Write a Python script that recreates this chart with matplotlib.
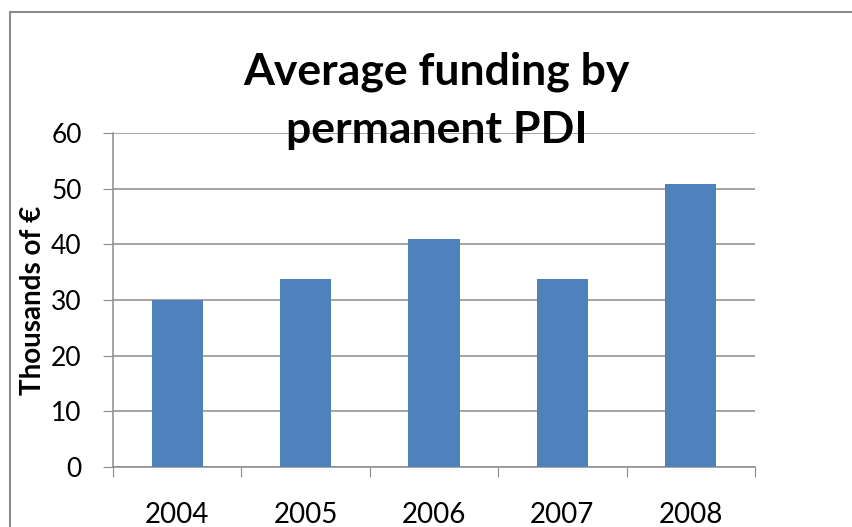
import matplotlib.pyplot as plt
from matplotlib.patches import Rectangle

years = ["2004", "2005", "2006", "2007", "2008"]
funding = [30, 33.7, 41, 33.7, 50.8]
yticks = [0, 10, 20, 30, 40, 50, 60]

plt.rcParams['font.family'] = ['Lato', 'DejaVu Sans']

fig = plt.figure(figsize=(8.53, 5.27), dpi=100)
ax = fig.add_axes([113/853, 1-467/527, 642/853, 334/527])

x = range(len(years))
ax.bar(x, funding, width=0.4, color='#4F81BD', zorder=3)

ax.set_xlim(-0.5, len(years)-0.5)
ax.set_ylim(0, 60)
ax.set_yticks(yticks)
ax.yaxis.grid(True, color='#8c8c8c', linewidth=1.1, zorder=0)

# ticks sit on the category boundaries, labels in between
ax.set_xticks([i - 0.5 for i in range(len(years)+1)])
ax.set_xticklabels([])
ax.set_xticks(list(x), minor=True)
ax.set_xticklabels(years, minor=True, fontsize=20)
ax.tick_params(axis='x', which='minor', length=0, pad=25)
ax.tick_params(axis='x', which='major', length=7.5, color='#8c8c8c', direction='out')
ax.tick_params(axis='y', length=7.5, color='#8c8c8c', labelsize=19, pad=15)

for s in ['top', 'right']:
    ax.spines[s].set_visible(False)
for s in ['left', 'bottom']:
    ax.spines[s].set_color('#8c8c8c')
    ax.spines[s].set_linewidth(1.1)

ax.set_ylabel("Thousands of €", fontsize=20, fontweight='bold', labelpad=4)

fig.text(0.512, 1-84/527, "Average funding by", ha='center', va='baseline',
         fontsize=32, fontweight='bold')
fig.text(0.512, 1-143/527, "permanent PDI", ha='center', va='baseline',
         fontsize=32, fontweight='bold')

# outer chart frame (runs off the right and bottom edges)
fig.patches.append(Rectangle((10/853, -0.1), 1.1, 1-12/527+0.1, transform=fig.transFigure,
                             fill=False, edgecolor='#8c8c8c', linewidth=1.5))

fig.savefig("out.png", dpi=100)
